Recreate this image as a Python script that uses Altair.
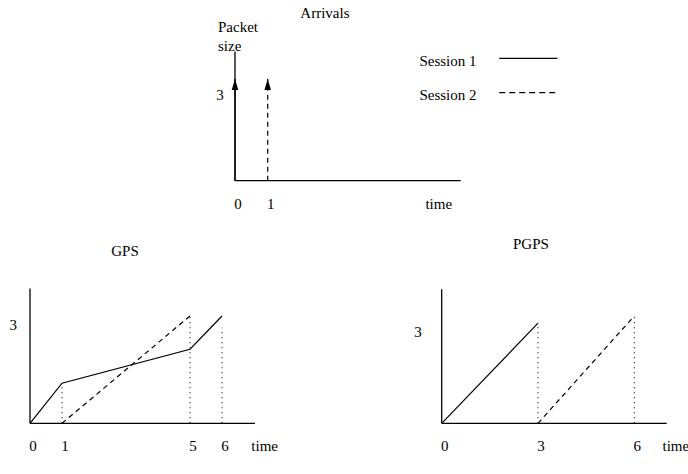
import altair as alt
import pandas as pd

FONT = "Liberation Serif"
FS = 15

# ---------------- data ----------------
# Arrivals panel
sessions = ["Session 1", "Session 2"]
arrival_time = [0, 1]
packet_size = [3, 3]
arrival_tick_pos = [0, 1]
arrival_tick_lab = ["0", "1"]
arrival_axis_x_end = 6.9
arrival_axis_y_end = 3.81

# GPS panel
gps_s1_time = [0, 1, 5, 6]
gps_s1_work = [0, 1.12, 2.07, 3.0]
gps_s2_time = [1, 5]
gps_s2_work = [0, 3.0]
gps_drop_time = [1, 5, 6]
gps_drop_top = [1.12, 3.0, 2.67]
gps_tick_pos = [0, 1, 5, 6]
gps_tick_lab = ["0", "1", "5", "6"]
gps_axis_x_end = 7.03
gps_axis_y_end = 3.77

# PGPS panel
pgps_s1_time = [0, 3]
pgps_s1_work = [0, 2.8]
pgps_s2_time = [3, 6]
pgps_s2_work = [0, 3.0]
pgps_drop_time = [3, 6]
pgps_drop_top = [2.8, 3.0]
pgps_tick_pos = [0, 3, 6]
pgps_tick_lab = ["0", "3", "6"]
pgps_axis_x_end = 7.01
pgps_axis_y_end = 3.75


# ---------------- helpers ----------------
def scales(x0, xu, y0, yu):
    return (alt.Scale(domain=[0, 7], range=[x0, x0 + 7 * xu], nice=False, zero=False),
            alt.Scale(domain=[0, 4], range=[y0, y0 - 4 * yu], nice=False, zero=False))


def X(xs, f="t"):
    return alt.X(f"{f}:Q", scale=xs, axis=None)


def Y(ys, f="v"):
    return alt.Y(f"{f}:Q", scale=ys, axis=None)


def axes(xs, ys, xend, yend):
    yaxis = alt.Chart(pd.DataFrame({"t": [0], "v": [0], "v2": [yend]})).mark_rule(
        color="black", strokeWidth=1.3).encode(x=X(xs), y=Y(ys), y2="v2:Q")
    xaxis = alt.Chart(pd.DataFrame({"t": [0], "t2": [xend], "v": [0]})).mark_rule(
        color="black", strokeWidth=1.3).encode(x=X(xs), x2="t2:Q", y=Y(ys))
    return [yaxis, xaxis]


def line(xs, ys, t, v, dash=None):
    kw = dict(color="black", strokeWidth=1.2)
    if dash:
        kw["strokeDash"] = dash
    return alt.Chart(pd.DataFrame({"t": t, "v": v})).mark_line(**kw).encode(
        x=X(xs), y=Y(ys), order="t:Q")


def drops(xs, ys, t, top):
    return alt.Chart(pd.DataFrame({"t": t, "v": [0] * len(t), "v2": top})).mark_rule(
        color="black", strokeWidth=1.1, strokeDash=[1, 4]).encode(
        x=X(xs), y=Y(ys), y2="v2:Q")


def text(xs, ys, t, v, labels, align="center", dx=0, dy=0):
    return alt.Chart(pd.DataFrame({"t": t, "v": v, "lab": labels})).mark_text(
        font=FONT, fontSize=FS, color="black", align=align, baseline="alphabetic",
        dx=dx, dy=dy).encode(x=X(xs), y=Y(ys), text="lab:N")


def ticks(xs, ys, pos, labs, endx):
    return text(xs, ys, pos + [endx], [0] * (len(pos) + 1), labs + ["time"], dx=3, dy=28)


# ---------------- Arrivals panel ----------------
axs, ays = scales(235, 32.7, 180.7, 33.9)
arr_df = pd.DataFrame({"t": arrival_time, "v": [0, 0], "v2": packet_size, "s": sessions})
arrow1 = alt.Chart(arr_df[arr_df.s == "Session 1"]).mark_rule(
    color="black", strokeWidth=1.3).encode(x=X(axs), y=Y(ays), y2="v2:Q")
arrow2 = alt.Chart(arr_df[arr_df.s == "Session 2"]).mark_rule(
    color="black", strokeWidth=1.2, strokeDash=[5, 4]).encode(x=X(axs), y=Y(ays), y2="v2:Q")
heads = alt.Chart(pd.DataFrame({"t": arrival_time, "v": packet_size})).mark_point(
    shape="M0,0L0.6,2L-0.6,2Z", filled=True, size=121, color="black", opacity=1,
    strokeWidth=0).encode(x=X(axs), y=Y(ays))

leg1 = line(axs, ays, [8.08, 9.86], [3.61, 3.61])
leg2 = line(axs, ays, [8.08, 9.86], [2.60, 2.60], dash=[6, 4])

arrivals = alt.layer(
    *axes(axs, ays, arrival_axis_x_end, arrival_axis_y_end),
    arrow1, arrow2, heads, leg1, leg2,
    text(axs, ays, [2.75], [4.80], ["Arrivals"]),
    text(axs, ays, [-0.52, -0.52], [4.39, 3.84], ["Packet", "size"], align="left"),
    text(axs, ays, [-0.46], [2.38], ["3"]),
    text(axs, ays, [5.64, 5.64], [3.38, 2.38], sessions, align="left"),
    ticks(axs, ays, arrival_tick_pos, arrival_tick_lab, 6.14),
)

# ---------------- GPS panel ----------------
gxs, gys = scales(30, 32, 423.3, 35.77)
gps = alt.layer(
    *axes(gxs, gys, gps_axis_x_end, gps_axis_y_end),
    drops(gxs, gys, gps_drop_time, gps_drop_top),
    line(gxs, gys, gps_s1_time, gps_s1_work),
    line(gxs, gys, gps_s2_time, gps_s2_work, dash=[5, 4]),
    text(gxs, gys, [2.97], [4.68], ["GPS"]),
    text(gxs, gys, [-0.52], [2.61], ["3"]),
    ticks(gxs, gys, gps_tick_pos, gps_tick_lab, 7.24),
)

# ---------------- PGPS panel ----------------
pxs, pys = scales(441.7, 32.1, 423.3, 35.77)
pgps = alt.layer(
    *axes(pxs, pys, pgps_axis_x_end, pgps_axis_y_end),
    drops(pxs, pys, pgps_drop_time, pgps_drop_top),
    line(pxs, pys, pgps_s1_time, pgps_s1_work),
    line(pxs, pys, pgps_s2_time, pgps_s2_work, dash=[5, 4]),
    text(pxs, pys, [2.78], [4.87], ["PGPS"]),
    text(pxs, pys, [-0.74], [2.42], ["3"]),
    ticks(pxs, pys, pgps_tick_pos, pgps_tick_lab, 7.2),
)

chart = alt.layer(arrivals, gps, pgps).resolve_scale(
    x="independent", y="independent"
).properties(
    width=688, height=474, autosize=alt.AutoSizeParams(type="none"), padding=0,
    background="white",
).configure_view(stroke=None)

chart.save("out.html", embed_options={"renderer": "svg", "actions": False})
